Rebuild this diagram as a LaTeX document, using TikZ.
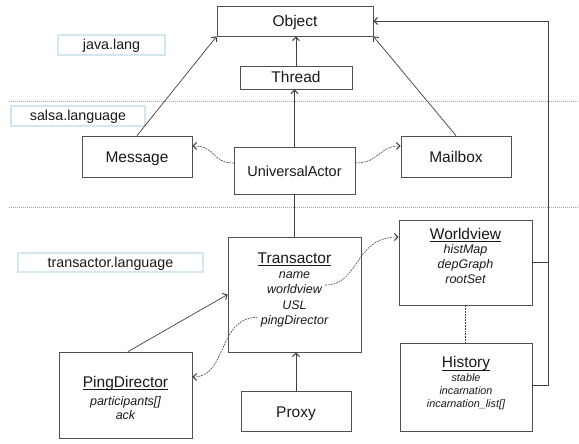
\documentclass[tikz,border=0pt]{standalone}
\usepackage{fontspec}
\setmainfont{Liberation Sans}
\usetikzlibrary{arrows.meta,calc}
\definecolor{boxline}{HTML}{505050}
\definecolor{conn}{HTML}{404040}
\definecolor{lblline}{HTML}{D4E6F0}
\definecolor{sepline}{HTML}{A8A8A8}
\newcommand\myul[1]{{\setbox0=\hbox{#1}\rlap{\copy0}\rule[-3pt]{\wd0}{0.8pt}}}
\tikzset{
  umlbox/.style={draw=boxline, line width=0.8pt, rectangle, inner sep=0pt, fill=white},
  lblbox/.style={draw=lblline, line width=1.6pt, rectangle, inner sep=0pt, fill=white},
  ttl/.style={anchor=base, inner sep=0pt, font=\fontsize{15.5}{17}\selectfont, text=black!90},
  attr/.style={anchor=base, inner sep=0pt, font=\fontsize{12.5}{14}\selectfont\itshape, text=black!90},
  sattr/.style={anchor=base, inner sep=0pt, font=\fontsize{10.8}{12}\selectfont\itshape, text=black!90},
  lbl/.style={anchor=base, inner sep=0pt, font=\fontsize{14.3}{16}\selectfont, text=black!90},
  arr/.style={draw=conn, line width=0.7pt, -{Straight Barb[length=3.5pt,width=7pt,line width=1pt]}},
  plain/.style={draw=conn, line width=0.7pt},
  dep/.style={draw=conn, line width=0.6pt, dash pattern=on 1.8pt off 1pt},
  deparr/.style={dep, -{Straight Barb[length=3.5pt,width=7pt,line width=1pt]}},
  sep/.style={draw=sepline, line width=0.7pt, dash pattern=on 0.8pt off 1.2pt}
}
\begin{document}
\begin{tikzpicture}[x=1pt,y=-1pt]
\useasboundingbox[fill=white] (0,0) rectangle (579,444);

% separators
\coordinate (s1a) at (9,101); \coordinate (s1b) at (579,101);
\coordinate (s2a) at (9,207); \coordinate (s2b) at (579,207);
\draw[sep] (s1a) -- (s1b);
\draw[sep] (s2a) -- (s2b);

% package labels
\node[lblbox, minimum width=107pt, minimum height=20pt] (lbjava) at (111.5,45) {};
\node[lbl] (tjava) at (111.5,50) {java.lang};
\node[lblbox, minimum width=134pt, minimum height=20pt] (lbsalsa) at (78,116) {};
\node[lbl] (tsalsa) at (78,121) {salsa.language};
\node[lblbox, minimum width=185pt, minimum height=19pt] (lbtrans) at (110.5,262.5) {};
\node[lbl] (ttrans) at (110.5,267.5) {transactor.language};

% boxes
\node[umlbox, minimum width=156pt, minimum height=30pt] (Object) at (295,21) {};
\node[ttl] (tObject) at (295,26.5) {Object};
\node[umlbox, minimum width=112pt, minimum height=23pt] (Thread) at (296,77.5) {};
\node[ttl] (tThread) at (296,83) {Thread};
\node[umlbox, minimum width=110pt, minimum height=41pt] (Message) at (137,156.5) {};
\node[ttl] (tMessage) at (137,162) {Message};
\node[umlbox, minimum width=121pt, minimum height=47pt] (UA) at (294.5,170.5) {};
\node[anchor=base, inner sep=0pt, font=\fontsize{14.5}{16}\selectfont, text=black!90] (tUA) at (294.5,176) {UniversalActor};
\node[umlbox, minimum width=110pt, minimum height=41pt] (Mailbox) at (456,156.5) {};
\node[ttl] (tMailbox) at (456,162) {Mailbox};

\node[umlbox, minimum width=133pt, minimum height=115pt] (Transactor) at (294.5,294.5) {};
\node[ttl] (tTr) at (294.5,263) {\myul{Transactor}};
\node[attr] (tTr1) at (294.5,278) {name};
\node[attr] (tTr2) at (294.5,293) {worldview};
\node[attr] (tTr3) at (294.5,309) {USL};
\node[attr] (tTr4) at (294.5,324) {pingDirector};

\node[umlbox, minimum width=133pt, minimum height=85pt] (Worldview) at (465.5,262.5) {};
\node[ttl] (tWv) at (465.5,239) {\myul{Worldview}};
\node[attr] (tWv1) at (465.5,253.5) {histMap};
\node[attr] (tWv2) at (465.5,268.5) {depGraph};
\node[attr] (tWv3) at (465.5,283) {rootSet};

\node[umlbox, minimum width=132pt, minimum height=88pt] (History) at (466,387) {};
\node[ttl] (tHi) at (466,367.5) {\myul{History}};
\node[sattr] (tHi1) at (466,381) {stable};
\node[sattr] (tHi2) at (466,394) {incarnation};
\node[sattr] (tHi3) at (466,407) {incarnation\_list[]};

\node[umlbox, minimum width=133pt, minimum height=86pt] (Ping) at (125.5,395) {};
\node[ttl] (tPi) at (125.5,387) {\myul{PingDirector}};
\node[attr] (tPi1) at (125.5,405) {participants[]};
\node[attr] (tPi2) at (125.5,419) {ack};

\node[umlbox, minimum width=110pt, minimum height=40pt] (Proxy) at (296,411) {};
\node[ttl] (tProxy) at (296,417) {Proxy};

% connectors
\draw[arr] (Message.north) -- (Object.south west);
\draw[arr] (Mailbox.north) -- (Object.south east);
\draw[arr] (Thread.north) -- (Thread.north |- Object.south);
\draw[arr] (UA.north) -- (UA.north |- Thread.south);
\draw[plain] (UA.south) -- (Transactor.north);
\draw[arr] (Proxy.north) -- (Proxy.north |- Transactor.south);
\draw[arr] ([xshift=2.5pt]Ping.north) -- (Transactor.west);
\coordinate (rc) at (548,21);
\draw[arr] ([yshift=2pt]History.east) -| (rc) -- (Object.east);
\draw[plain] (Worldview.east) -- (Worldview.east -| rc);
\draw[dep] (Worldview.south) -- (Worldview.south |- History.north);

\draw[deparr] ([yshift=7.5pt]UA.west) .. controls +(-22,0) and +(24,0) .. ([yshift=10.5pt]Message.east);
\draw[deparr] ([yshift=7.5pt]UA.east) .. controls +(24,0) and +(-22,0) .. ([yshift=10.5pt]Mailbox.west);
\draw[deparr] ([xshift=3pt,yshift=3.5pt]tTr2.east) .. controls +(35,0) and +(-45,0) .. ([yshift=25.5pt]Worldview.west);
\draw[deparr] ([xshift=-3pt,yshift=3.5pt]tTr4.west) .. controls +(-40,0) and +(35,0) .. ([yshift=18pt]Ping.east);
\end{tikzpicture}
\end{document}
